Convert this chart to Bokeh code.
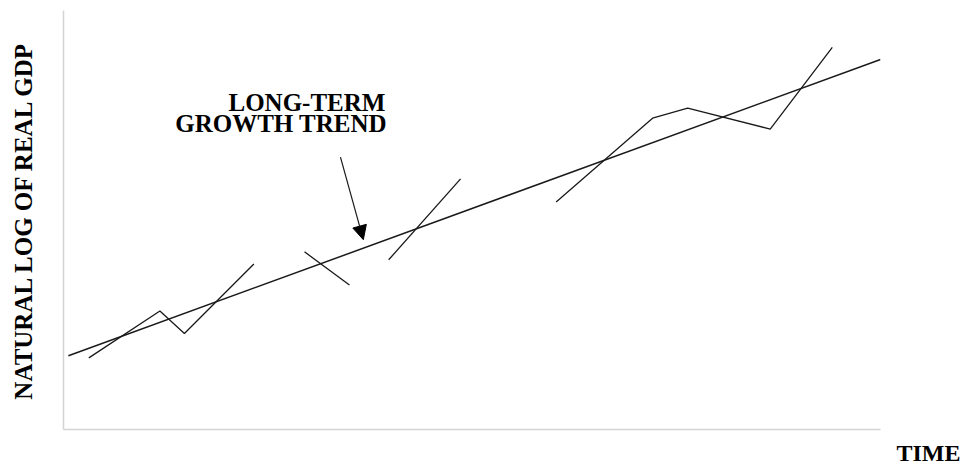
from bokeh.plotting import figure
from bokeh.models import Label, Arrow, NormalHead, Range1d, Title
from bokeh.embed import file_html
from bokeh.resources import INLINE

# Data (time in periods, natural log of real GDP in index units)
trend_t = [0.6, 100.0]
trend_y = [17.6, 88.3]

# Business-cycle path (NaN separates visible pieces)
nan = float("nan")
cycle_t = [3.1, 11.8, 14.8, 23.3, nan, 29.5, 35.0, nan, 39.8, 48.6, nan,
           60.3, 72.1, 76.4, 86.5, 94.1]
cycle_y = [17.1, 28.3, 22.9, 39.5, nan, 42.4, 34.5, nan, 40.5, 59.8, nan,
           54.3, 74.3, 76.7, 71.7, 91.2]

FONT = "Liberation Serif"

p = figure(width=966, height=473, output_backend="svg", toolbar_location=None,
           x_range=Range1d(0, 100), y_range=Range1d(0, 100),
           min_border_left=63, min_border_right=86, min_border_top=10,
           min_border_bottom=43)
p.outline_line_color = None
p.grid.visible = False
for ax in (p.xaxis, p.yaxis):
    ax.ticker = []
    ax.axis_line_color = "#d4d4d4"
    ax.axis_line_width = 1.5
    ax.major_tick_line_color = None
    ax.minor_tick_line_color = None
    ax.major_tick_out = 0
    ax.major_tick_in = 0
    ax.minor_tick_out = 0

p.yaxis.axis_label = "NATURAL LOG OF REAL GDP"
p.yaxis.axis_label_text_font = FONT
p.yaxis.axis_label_text_font_style = "bold"
p.yaxis.axis_label_text_font_size = "25px"
p.yaxis.axis_label_text_color = "black"
p.yaxis.axis_label_standoff = 27

p.add_layout(Title(text="TIME", align="right", offset=-80, standoff=16,
                   text_font=FONT, text_font_style="bold", text_font_size="24px",
                   text_color="black"), "below")

p.line(trend_t, trend_y, line_color="#1a1a1a", line_width=1.5)
p.line(cycle_t, cycle_y, line_color="#1a1a1a", line_width=1.3)

p.add_layout(Arrow(end=NormalHead(size=14, fill_color="black", line_color="black"),
                   x_start=33.9, y_start=65.0, x_end=36.7, y_end=45.3,
                   line_color="#1a1a1a", line_width=1.2))

def lab(x, y, text, align="center"):
    p.add_layout(Label(x=x, y=y, text=text, text_font=FONT, text_font_style="bold",
                       text_font_size="25px", text_align=align,
                       text_baseline="middle", text_color="black"))

lab(39.4, 78.1, "LONG-TERM", align="right")
lab(39.6, 73.1, "GROWTH TREND", align="right")

open("out.html", "w").write(file_html(p, INLINE))
